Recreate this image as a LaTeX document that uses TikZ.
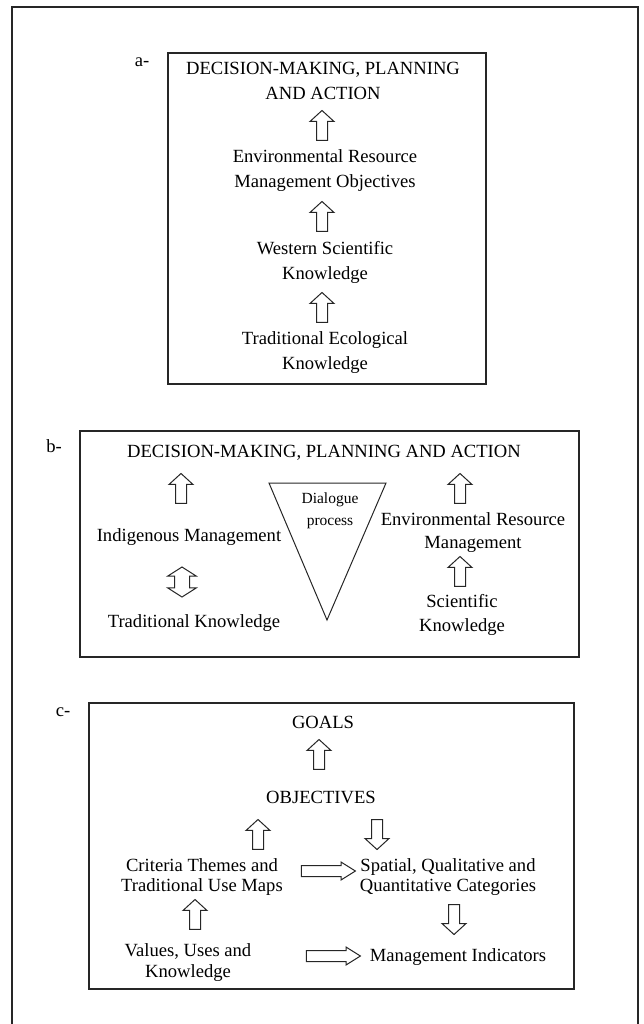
\documentclass[tikz,border=0pt]{standalone}
\usepackage{fontspec}
\setmainfont{Liberation Serif}
\usetikzlibrary{shapes.arrows}

\tikzset{
  txt/.style={align=center, inner sep=0pt, font=\fontsize{18.6}{25}\selectfont},
  panel/.style={draw=black!85, line width=1.2pt},
  blk/.style={draw=black!85, line width=1pt, inner xsep=0pt, inner ysep=5pt, fill=white},
  uparr/.style={blk, single arrow, minimum height=30pt,
    single arrow head extend=6.5pt, single arrow tip angle=95, rotate=90},
  dnarr/.style={uparr, rotate=-180},
  rtarr/.style={blk, single arrow, minimum height=54pt,
    single arrow head extend=3.5pt, single arrow tip angle=64},
  twoarr/.style={blk, double arrow, inner ysep=7pt, minimum height=30pt,
    double arrow head extend=7pt, double arrow tip angle=115, rotate=90}
}

\begin{document}
\begin{tikzpicture}[x=1pt, y=-1pt]
\useasboundingbox (0,0) rectangle (643,1024);
% outer frame, open at the bottom
\begin{scope}
\clip (0,0) rectangle (643,1024);
\draw[draw=black!85, line width=1.6pt] (12,1030) -- (12,7) -- (638,7) -- (638,1030);
\end{scope}

% a-
\node[txt] (la) at (142,62) {a-};
\draw[panel] (168,53) rectangle (486,384);
\node[txt] (deca) at (323,81) {DECISION-MAKING, PLANNING\\AND ACTION};
\node[txt] (erma) at (325,171) {Environmental Resource\\Management Objectives};
\node[txt] (wska) at (325,262) {Western Scientific\\Knowledge};
\node[txt] (teka) at (325,353) {Traditional Ecological\\Knowledge};
\node[uparr] (a1) at (322,128) {};
\node[uparr] (a2) at (322,219) {};
\node[uparr] (a3) at (322,310) {};

% b-
\node[txt] (lb) at (54,446) {b-};
\draw[panel] (80,431) rectangle (579,657);
\node[txt] (decb) at (324,453) {DECISION-MAKING, PLANNING AND ACTION};
\draw[draw=black!85, line width=1pt] (269,483) -- (386,483) -- (327,620) -- cycle;
\node[txt, font=\fontsize{15.5}{22}\selectfont] (dial) at (330,511) {Dialogue\\process};
\node[txt] (indig) at (189,537) {Indigenous Management};
\node[txt] (tradk) at (194,623) {Traditional Knowledge};
\node[txt, font=\fontsize{18.6}{23}\selectfont] (ermb) at (473,533) {Environmental Resource\\Management};
\node[txt, font=\fontsize{18.6}{24}\selectfont] (scik) at (462,615) {Scientific\\Knowledge};
\node[uparr] (b1) at (181,491) {};
\node[twoarr] (b2) at (182,582) {};
\node[uparr] (b3) at (460,491) {};
\node[uparr] (b4) at (460,574) {};

% c-
\node[txt] (lc) at (63,712) {c-};
\draw[panel] (89,703) rectangle (574,989);
\node[txt] (goals) at (323,722) {GOALS};
\node[txt] (obj) at (321,797) {OBJECTIVES};
\node[txt, font=\fontsize{18.6}{20}\selectfont] (crit) at (202,877) {Criteria Themes and\\Traditional Use Maps};
\node[txt, font=\fontsize{18.6}{20}\selectfont] (spat) at (448,877) {Spatial, Qualitative and\\Quantitative Categories};
\node[txt, font=\fontsize{18.6}{21}\selectfont] (vals) at (188,963) {Values, Uses and\\Knowledge};
\node[txt] (mind) at (458,957) {Management Indicators};
\node[uparr] (c1) at (319,757) {};
\node[uparr] (c2) at (258,837) {};
\node[dnarr] (c3) at (377,832) {};
\node[dnarr] (c4) at (454,917) {};
\node[uparr] (c5) at (195,917) {};
\node[rtarr] (c6) at (324,871) {};
\node[rtarr] (c7) at (329,956) {};
\end{tikzpicture}
\end{document}
